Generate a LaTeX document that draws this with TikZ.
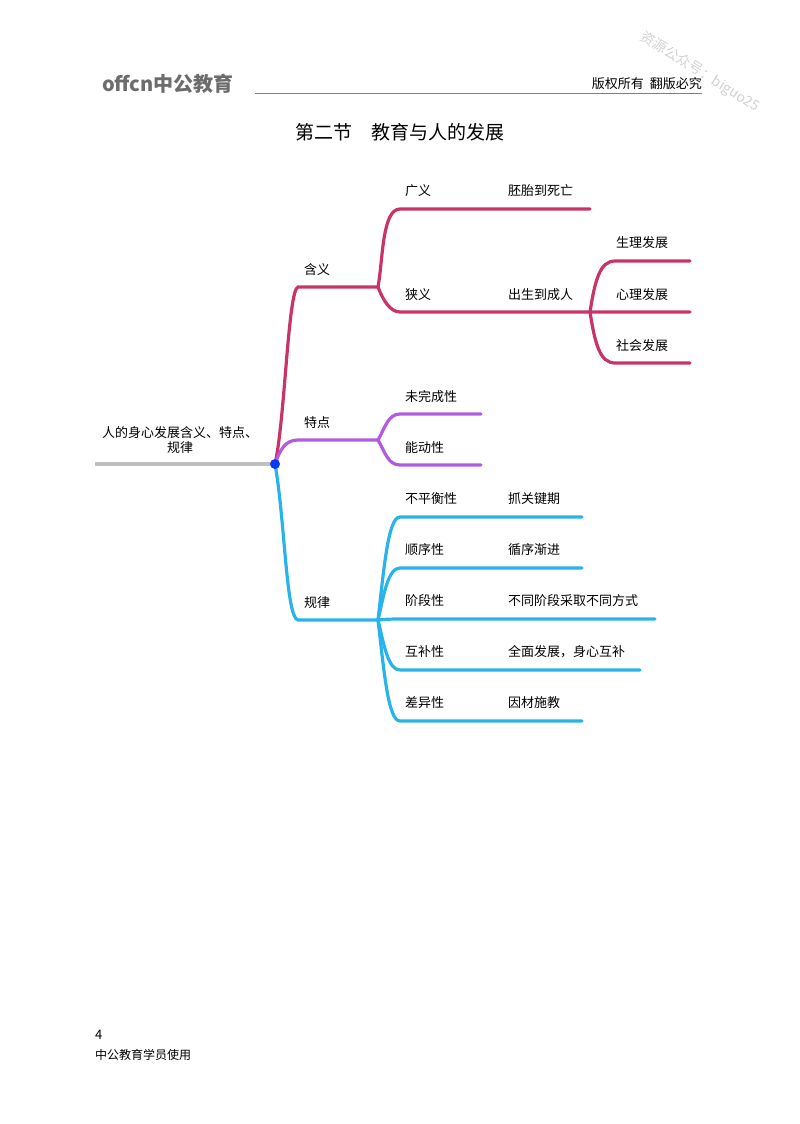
\documentclass[tikz,border=0pt]{standalone}
\usepackage{fontspec}
\setmainfont{Noto Sans CJK SC}
\newfontfamily\serifcjk{Noto Sans CJK SC}
\definecolor{crim}{RGB}{200,52,104}
\definecolor{purp}{RGB}{176,92,224}
\definecolor{sky}{RGB}{40,180,234}
\begin{document}
\begin{tikzpicture}[x=1pt,y=-1pt,
  br/.style={line width=3.2pt,line cap=round},
  lbl/.style={font=\fontsize{13}{15}\selectfont,anchor=west,inner sep=0pt},
  curv/.style={to path={.. controls ($(\tikztostart)+(4,0)$) and ($(\tikztotarget)+(-18,0)$) .. (\tikztotarget)}}]
\usetikzlibrary{calc}
\useasboundingbox (0,0) rectangle (800,1124);
% header
\node[font=\fontsize{20}{22}\selectfont\bfseries,text=gray!85!black,anchor=west,inner sep=0pt] (logo) at (102,84) {offcn中公教育};
\coordinate (hl) at (255,93); \coordinate (hr) at (702,93);
\draw[gray,line width=1pt] (hl) -- (hr);
\node[font=\fontsize{13}{15}\selectfont,anchor=east,inner sep=0pt] (copy) at (702,84) {版权所有\ \ 翻版必究};
\node[font=\fontsize{14}{16}\selectfont,text=gray!35,rotate=-32,inner sep=0pt] (wm) at (700,72) {资源公众号：biguo25};
\node[font=\fontsize{19}{22}\selectfont,inner sep=0pt] (title) at (400,132) {第二节\quad 教育与人的发展};
% footer
\node[font=\fontsize{13}{15}\selectfont,anchor=west,inner sep=0pt] (pg) at (95,1035) {4};
\node[font=\fontsize{12}{14}\selectfont,anchor=west,inner sep=0pt] (ft) at (95,1055) {中公教育学员使用};
% root
\coordinate (rl) at (95,464);
\coordinate (root) at (275,464);
\draw[line width=3.2pt,gray!50] (rl) -- (root);
\node[font=\fontsize{13}{15}\selectfont,align=center,inner sep=0pt] (rt) at (180,440) {人的身心发展含义、特点、\\规律};
% 含义
\coordinate (a0) at (298,287); \coordinate (a1) at (378,287);
\draw[br,crim] (root) .. controls (285,420) and (288,290) .. (a0) -- (a1);
\node[lbl] (ha) at (304,270) {含义};
\coordinate (g0) at (400,209); \coordinate (g1) at (590,209);
\coordinate (x0) at (400,312); \coordinate (x1) at (690,312);
\draw[br,crim] (a1) .. controls (383,260) and (382,209) .. (g0) -- (g1);
\draw[br,crim] (a1) .. controls (383,300) and (390,312) .. (x0) -- (x1);
\node[lbl] (gy) at (405,191) {广义}; \node[lbl] (gyd) at (508,191) {胚胎到死亡};
\node[lbl] (xy) at (405,295) {狭义}; \node[lbl] (xyd) at (508,295) {出生到成人};
\coordinate (xb) at (590,312);
\coordinate (s1) at (615,261); \coordinate (s1e) at (690,261);
\coordinate (s3) at (615,363); \coordinate (s3e) at (690,363);
\draw[br,crim] (xb) .. controls (595,280) and (600,261) .. (s1) -- (s1e);
\draw[br,crim] (xb) .. controls (595,344) and (600,363) .. (s3) -- (s3e);
\node[lbl] (sl) at (616,243) {生理发展};
\node[lbl] (xl) at (616,295) {心理发展};
\node[lbl] (sh) at (616,346) {社会发展};
% 特点
\coordinate (t0) at (298,440); \coordinate (t1) at (378,440);
\draw[br,purp] (root) .. controls (280,450) and (285,440) .. (t0) -- (t1);
\node[lbl] (td) at (304,423) {特点};
\coordinate (w0) at (400,414); \coordinate (w1) at (481,414);
\coordinate (n0) at (400,465); \coordinate (n1) at (481,465);
\draw[br,purp] (t1) .. controls (385,428) and (388,414) .. (w0) -- (w1);
\draw[br,purp] (t1) .. controls (385,452) and (388,465) .. (n0) -- (n1);
\node[lbl] (wl) at (405,397) {未完成性};
\node[lbl] (nl) at (405,448) {能动性};
% 规律
\coordinate (l0) at (298,620); \coordinate (l1) at (378,620);
\draw[br,sky] (root) .. controls (285,520) and (286,618) .. (l0) -- (l1);
\node[lbl] (gl) at (304,603) {规律};
\foreach \y/\e/\a/\b [count=\i] in {517/582/不平衡性/抓关键期, 568/582/顺序性/循序渐进, 619/655/阶段性/不同阶段采取不同方式, 670/640/互补性/全面发展，身心互补, 721/582/差异性/因材施教}{
  \coordinate (r\i) at (400,\y); \coordinate (re\i) at (\e,\y);
  \draw[br,sky] (l1) .. controls (384,{(620+\y)/2}) and (388,\y) .. (r\i) -- (re\i);
  \node[lbl] (ra\i) at (405,\y-18) {\a};
  \node[lbl] (rb\i) at (508,\y-18) {\b};
}
\fill[blue!70!sky] (root) circle (5);
\end{tikzpicture}
\end{document}
